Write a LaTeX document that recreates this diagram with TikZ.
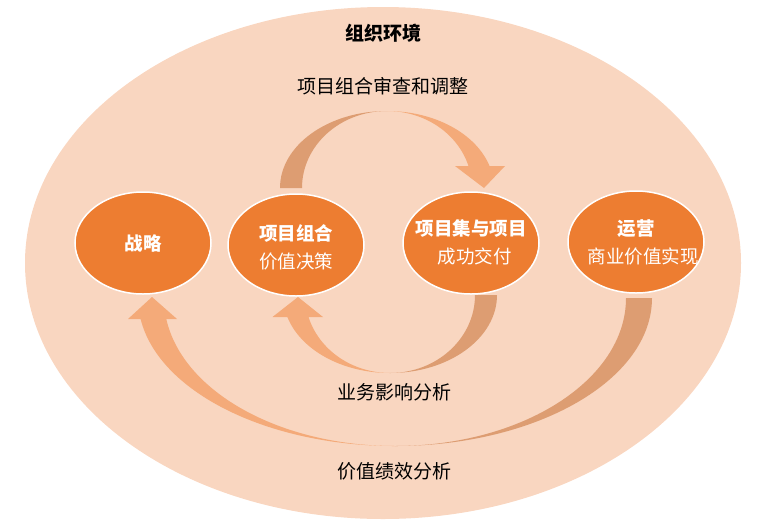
\documentclass[tikz,border=0pt]{standalone}
\usepackage{fontspec}
\setmainfont{Noto Sans CJK SC}
\usepackage{tikz}
\usetikzlibrary{
    shapes.geometric
}
\definecolor{envfill}{HTML}{F9D6C0}
\definecolor{stagefill}{HTML}{ED7D31}
\definecolor{armdark}{HTML}{DD9D72}
\definecolor{armlight}{HTML}{F4AA79}

\begin{document}
\begin{tikzpicture}[x=1pt, y=1pt,
        stage/.style={ellipse, draw=white, line width=1.5pt, fill=stagefill,
            minimum width=136pt, minimum height=102pt, inner sep=0pt},
        stagetext/.style={text=white, inner sep=0pt, align=center,
            font=\fontsize{18.5pt}{28pt}\selectfont},
        lbl/.style={text=black, inner sep=0pt, font=\fontsize{19pt}{23pt}\selectfont}]
                        \useasboundingbox (0, 0) rectangle (768, -531);
                        % organisation
                        \fill[envfill] (383, -263) ellipse[x radius=358pt, y radius=256pt];

                        % portfolio review (top)
                        \fill[armdark] (280, -188) arc[start angle=180, end angle=90, x radius=107pt, y radius=77pt]
                            arc[start angle=90, end angle=180, x radius=85pt, y radius=77pt] -- cycle;
                        \fill[armlight] (387, -111) arc[start angle=90, end angle=16.6, x radius=107pt, y radius=77pt]
                            -- (505, -166) -- (484, -188) -- (455, -166) -- (468.5, -166)
                            arc[start angle=16.6, end angle=90, x radius=85pt, y radius=77pt] -- cycle;

                        % business impact (middle)
                        \fill[armdark] (497, -295) arc[start angle=0, end angle=-90, x radius=107pt, y radius=78pt]
                            arc[start angle=-90, end angle=0, x radius=85pt, y radius=78pt] -- cycle;
                        \fill[armlight] (390, -373) arc[start angle=270, end angle=196.4, x radius=107pt, y radius=78pt]
                            -- (272.5, -317) -- (298, -297) -- (323, -317) -- (308.5, -317)
                            arc[start angle=196.4, end angle=270, x radius=85pt, y radius=78pt] -- cycle;

                        % value performance (outer)
                        \fill[armdark] (652, -298) arc[start angle=0, end angle=-90, x radius=257pt, y radius=148pt]
                            arc[start angle=-90, end angle=0, x radius=231pt, y radius=148pt] -- cycle;
                        \fill[armlight] (395, -446) arc[start angle=270, end angle=188.16, x radius=257pt, y radius=148pt]
                            -- (128, -319) -- (152, -297) -- (177, -319) -- (166.3, -319)
                            arc[start angle=188.16, end angle=270, x radius=231pt, y radius=148pt] -- cycle;

                        \node[stage, label={[stagetext]center:\bfseries 战略}] (st) at (143, -243) {};
                        \node[stage, label={[stagetext, yshift=-2pt]center:{{\bfseries 项目组合}\\价值决策}}] (pf) at (296, -245) {};
                        \node[stage, label={[stagetext, yshift=1pt]center:{{\bfseries 项目集与项目}\\\hspace*{7pt}成功交付}}] (pg) at (471, -243) {};
                        \node[stage, label={[stagetext]center:{{\bfseries 运营}\\\hspace*{14pt}商业价值实现}}] (op) at (636, -242) {};

                        \node[lbl] (env) at (383, -33) {\bfseries 组织环境};
                        \node[lbl] (rv) at (383, -86) {项目组合审查和调整};
                        \node[lbl] (bi) at (394, -392) {业务影响分析};
                        \node[lbl] (vp) at (394, -471) {价值绩效分析};
                    \end{tikzpicture}
\end{document}
